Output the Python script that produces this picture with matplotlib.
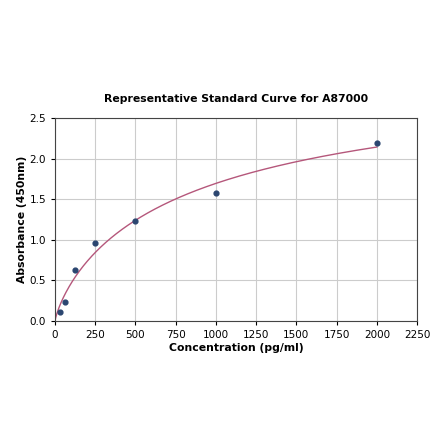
import numpy as np
import matplotlib
matplotlib.use("Agg")
import matplotlib.pyplot as plt

# standard points
conc = [31.25, 62.5, 125, 250, 500, 1000, 2000]
absorb = [0.11, 0.23, 0.63, 0.96, 1.23, 1.58, 2.20]

x_ticks = [0, 250, 500, 750, 1000, 1250, 1500, 1750, 2000, 2250]
y_ticks = [0.0, 0.5, 1.0, 1.5, 2.0, 2.5]

x = np.array(conc)
y = np.array(absorb)


# 4PL with bottom fixed at 0: y = d * (x/c)^b / (1 + (x/c)^b)
def shape(xx, b, c):
    r = (xx / c) ** b
    return r / (1 + r)


best = None
for b in np.linspace(0.4, 1.5, 111):
    for c in np.logspace(1.5, 4.5, 301):
        g = shape(x, b, c)
        d = (g @ y) / (g @ g)
        err = np.sum((d * g - y) ** 2)
        if best is None or err < best[0]:
            best = (err, b, c, d)
_, b, c, d = best

xs = np.linspace(0, 2000, 500)
ys = d * shape(xs, b, c)

fig = plt.figure(figsize=(4.4, 4.41), dpi=100)
ax = fig.add_axes([0.125, 0.272, 0.823, 0.46])

ax.plot(xs, ys, color="#b5577b", lw=1.0, zorder=2)
ax.scatter(conc, absorb, s=12, color="#2b4670", zorder=3)

ax.set_xlim(0, 2250)
ax.set_ylim(0, 2.5)
ax.set_xticks(x_ticks)
ax.set_yticks(y_ticks)
ax.set_yticklabels([f"{v:.1f}" for v in y_ticks])
ax.tick_params(labelsize=7.5, length=3, width=0.8)
ax.grid(True, color="#cccccc", lw=0.8)
ax.set_axisbelow(True)
for s in ax.spines.values():
    s.set_color("#444444")
    s.set_linewidth(0.8)

ax.set_title("Representative Standard Curve for A87000", fontsize=7.8,
             fontweight="bold", pad=12)
ax.set_xlabel("Concentration (pg/ml)", fontsize=7.8, fontweight="bold",
              labelpad=2)
ax.set_ylabel("Absorbance (450nm)", fontsize=7.8, fontweight="bold",
              labelpad=2)

fig.savefig("out.png", dpi=100)
